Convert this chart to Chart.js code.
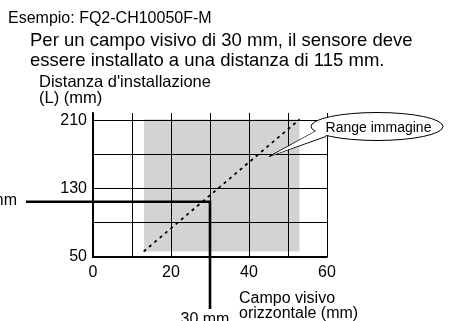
<!DOCTYPE html>
<html>
<head>
<meta charset="utf-8">
<script src="https://cdn.jsdelivr.net/npm/chart.js@4/dist/chart.umd.min.js"></script>
<style>
  html, body { margin: 0; padding: 0; background: #fff; }
  #wrap { width: 452px; height: 321px; }
  canvas { display: block; background: #fff; }
</style>
</head>
<body>
<div id="wrap"><canvas id="c" width="452" height="321"></canvas></div>
<script>
// Field of view (mm) vs. installation distance L (mm) for FQ2-CH10050F-M
const xTickValues = [0, 10, 20, 30, 40, 50, 60];
const xTickLabels = [0, 20, 40, 60];
const yTickValues = [50, 90, 130, 170, 210];
const yTickLabels = [50, 130, 210];

// imaging range: field of view span and distance span
const rangeFov = [13, 53];
const rangeDistance = [56.5, 212];

// worked example
const exampleFov = 30;
const exampleDistance = 115;

const FONT = '"Liberation Sans", Arial, Helvetica, sans-serif';

const annotations = {
  id: 'annotations',
  afterDraw(chart) {
    const ctx = chart.ctx;
    const xs = chart.scales.x, ys = chart.scales.y;
    ctx.save();
    ctx.fillStyle = '#000';
    ctx.textBaseline = 'alphabetic';

    // heading text
    ctx.textAlign = 'left';
    ctx.font = '16px ' + FONT;
    ctx.fillText('Esempio: FQ2-CH10050F-M', 8, 23);
    ctx.font = '18.5px ' + FONT;
    ctx.fillText('Per un campo visivo di 30 mm, il sensore deve', 30, 46);
    ctx.fillText('essere installato a una distanza di 115 mm.', 30, 65.5);

    // axis titles
    ctx.font = '16.5px ' + FONT;
    ctx.fillText("Distanza d'installazione", 39, 87);
    ctx.fillText('(L) (mm)', 39, 103);
    ctx.font = '16px ' + FONT;
    ctx.fillText('Campo visivo', 239, 303);
    ctx.fillText('orizzontale (mm)', 239, 318);

    // example reading lines
    const px = xs.getPixelForValue(exampleFov);
    const py = ys.getPixelForValue(exampleDistance);
    ctx.strokeStyle = '#000';
    ctx.lineWidth = 2.6;
    ctx.lineCap = 'butt';
    ctx.beginPath();
    ctx.moveTo(26, py);
    ctx.lineTo(px + 1.3, py);
    ctx.moveTo(px, py);
    ctx.lineTo(px, 309);
    ctx.stroke();

    ctx.font = '16px ' + FONT;
    ctx.textAlign = 'right';
    ctx.fillText(exampleDistance + ' mm', 17, py + 3);
    ctx.textAlign = 'center';
    ctx.fillText(exampleFov + ' mm', px - 5, 323.5);

    // callout bubble
    const cx = 377, cy = 126.5, rx = 66, ry = 14;
    ctx.lineWidth = 1;
    ctx.fillStyle = '#fff';
    ctx.beginPath();
    ctx.ellipse(cx, cy, rx, ry, 0, 0, Math.PI * 2);
    ctx.fill();
    ctx.stroke();
    // tail
    ctx.beginPath();
    ctx.moveTo(316, 131);
    ctx.lineTo(269, 156.5);
    ctx.lineTo(326, 136.5);
    ctx.stroke();
    ctx.beginPath();
    ctx.moveTo(318, 130);
    ctx.lineTo(272, 155.5);
    ctx.lineTo(327, 135);
    ctx.closePath();
    ctx.fill();

    ctx.fillStyle = '#000';
    ctx.font = '14px ' + FONT;
    ctx.textAlign = 'center';
    ctx.fillText('Range immagine', 378.5, 132);
    ctx.restore();
  }
};

new Chart(document.getElementById('c'), {
  type: 'scatter',
  data: {
    datasets: [
      {
        // diagonal of the range
        data: [{ x: rangeFov[0], y: rangeDistance[0] }, { x: rangeFov[1], y: rangeDistance[1] }],
        order: 0,
        showLine: true,
        borderColor: '#000',
        borderWidth: 1.8,
        borderDash: [3, 4],
        pointRadius: 0,
        fill: false
      },
      {
        // shaded imaging range
        data: [{ x: rangeFov[0], y: rangeDistance[1] }, { x: rangeFov[1], y: rangeDistance[1] }],
        order: 1,
        showLine: true,
        borderWidth: 0,
        pointRadius: 0,
        backgroundColor: '#d3d3d3',
        fill: { target: { value: rangeDistance[0] } }
      }
    ]
  },
  options: {
    responsive: false,
    animation: false,
    layout: { padding: { left: 0, top: 113, right: 125, bottom: 0 } },
    plugins: { legend: { display: false }, tooltip: { enabled: false }, title: { display: false } },
    scales: {
      x: {
        type: 'linear',
        min: 0, max: 60,
        afterFit(s) { s.height = 64; },
        afterBuildTicks(s) { s.ticks = xTickValues.map(v => ({ value: v })); },
        ticks: {
          color: '#000',
          font: { family: FONT, size: 16 },
          padding: 6,
          maxRotation: 0,
          autoSkip: false,
          callback: v => xTickLabels.includes(v) ? String(v) : ''
        },
        grid: { color: '#000', lineWidth: 1, drawTicks: false, z: 1 },
        border: { color: '#000', width: 1.6, z: 1 }
      },
      y: {
        type: 'linear',
        min: 50, max: 219.4,
        afterFit(s) { s.width = 93; },
        afterBuildTicks(s) { s.ticks = yTickValues.map(v => ({ value: v })); },
        ticks: {
          color: '#000',
          font: { family: FONT, size: 16 },
          padding: 6,
          autoSkip: false,
          callback: v => yTickLabels.includes(v) ? String(v) : ''
        },
        grid: { color: '#000', lineWidth: 1, drawTicks: false, z: 1 },
        border: { color: '#000', width: 1.6, z: 1 }
      }
    }
  },
  plugins: [annotations]
});
</script>
</body>
</html>
